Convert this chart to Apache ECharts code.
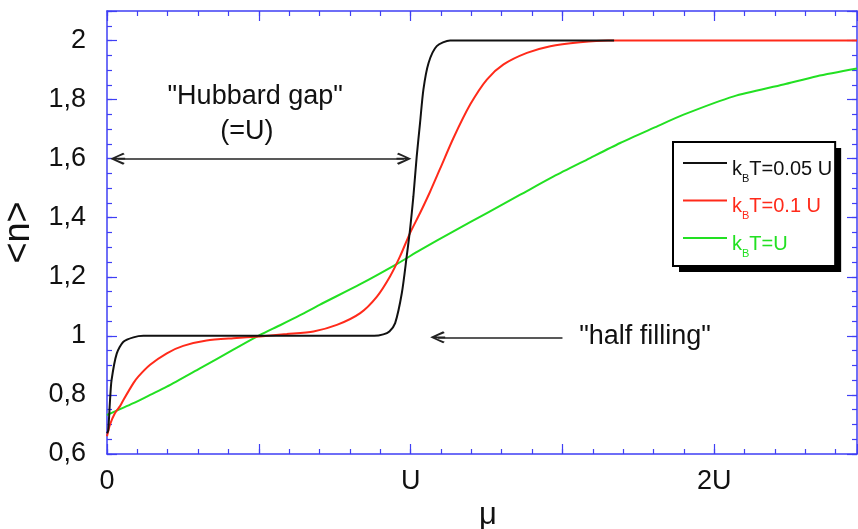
<!DOCTYPE html>
<html><head><meta charset="utf-8">
<script src="https://cdn.jsdelivr.net/npm/echarts@6/dist/echarts.min.js"></script>
<style>html,body{margin:0;padding:0;background:#fff}#c{width:858px;height:529px}</style>
</head><body><div id="c"></div>
<script>
// ---- data (mu in units of U, n = <n>) ----
const muBlack = [0, 0.004, 0.010, 0.015, 0.032, 0.054, 0.087, 0.12, 0.3, 0.5, 0.7, 0.88, 0.91, 0.93, 0.949, 0.971, 0.987, 0.998, 1.009, 1.020, 1.031, 1.042, 1.059, 1.086, 1.13, 1.4, 1.67];
const nBlack  = [0.67, 0.68, 0.783, 0.85, 0.94, 0.98, 0.995, 1.0, 1.0, 1.0, 1.0, 1.0, 1.005, 1.015, 1.043, 1.145, 1.269, 1.36, 1.472, 1.608, 1.721, 1.834, 1.924, 1.981, 2.0, 2.0, 2.0];

const muRed = [0, 0.01, 0.026, 0.043, 0.054, 0.087, 0.103, 0.142, 0.197, 0.251, 0.328, 0.416, 0.504, 0.592, 0.68, 0.757, 0.834, 0.889, 0.932, 0.965, 0.998, 1.031, 1.064, 1.097, 1.141, 1.196, 1.251, 1.306, 1.383, 1.46, 1.558, 1.65, 2.0, 2.47];
const nRed  = [0.66, 0.70, 0.738, 0.762, 0.783, 0.84, 0.862, 0.902, 0.941, 0.966, 0.984, 0.992, 0.998, 1.006, 1.015, 1.037, 1.077, 1.133, 1.201, 1.269, 1.348, 1.416, 1.488, 1.566, 1.67, 1.783, 1.868, 1.919, 1.958, 1.981, 1.994, 2.0, 2.0, 2.0];

const muGreen = [0, 0.087, 0.142, 0.197, 0.306, 0.416, 0.504, 0.57, 0.636, 0.7, 0.834, 0.954, 1.031, 1.141, 1.251, 1.361, 1.471, 1.581, 1.69, 1.8, 1.899, 2.064, 2.228, 2.338, 2.47];
const nGreen  = [0.732, 0.772, 0.80, 0.828, 0.89, 0.953, 1.003, 1.036, 1.07, 1.105, 1.175, 1.243, 1.29, 1.354, 1.416, 1.478, 1.54, 1.597, 1.653, 1.704, 1.749, 1.811, 1.851, 1.879, 1.905];

const seriesNames = ['kBT=0.05 U', 'kBT=0.1 U', 'kBT=U'];
const legendTexts = ['{t|k}{s|B}{t|T=0.05 U}', '{t|k}{s|B}{t|T=0.1 U}', '{t|k}{s|B}{t|T=U}'];

const xLabelValues = [0, 1, 2];
const xLabelTexts  = ['0', 'U', '2U'];
const yLabelValues = [0.6, 0.8, 1, 1.2, 1.4, 1.6, 1.8, 2];
const yLabelTexts  = ['0,6', '0,8', '1', '1,2', '1,4', '1,6', '1,8', '2'];

const annotationTexts = ['"Hubbard gap"', '(=U)', '"half filling"'];
const annotationCoords = [[0.488, 1.81], [0.461, 1.693], [1.772, 0.997]];
// ----------------------------------------------------------------

const zip = (a, b) => a.map((v, i) => [v, b[i]]);
const FONT = 'Liberation Sans, Arial, Helvetica, sans-serif';
const AXIS_BLUE = '#3f3ff5';
const colors = ['#111111', '#ff2a1a', '#22e022'];

const lookup = (vals, txts) => v => {
  for (let i = 0; i < vals.length; i++) if (Math.abs(v - vals[i]) < 1e-6) return txts[i];
  return '';
};

const XMIN = 0, XMAX = 2.47, YMIN = 0.6, YMAX = 2.1;
function xAx(pos, interval, len, line, labels) {
  return {
    type: 'value', position: pos, min: XMIN, max: XMAX, interval: interval,
    axisLine: { show: line, onZero: false, lineStyle: { color: AXIS_BLUE, width: 1.5 } },
    axisTick: { show: true, inside: true, length: len, lineStyle: { color: AXIS_BLUE, width: 1.2 } },
    axisLabel: labels ? { show: true, margin: 14, fontSize: 27, color: '#111', fontFamily: FONT,
      formatter: lookup(xLabelValues, xLabelTexts) } : { show: false },
    splitLine: { show: false }
  };
}
function yAx(pos, interval, len, line, labels) {
  return {
    type: 'value', position: pos, min: YMIN, max: YMAX, interval: interval,
    axisLine: { show: line, onZero: false, lineStyle: { color: AXIS_BLUE, width: 1.5 } },
    axisTick: { show: true, inside: true, length: len, lineStyle: { color: AXIS_BLUE, width: 1.2 } },
    axisLabel: labels ? { show: true, margin: 21, fontSize: 27, color: '#111', fontFamily: FONT,
      formatter: lookup(yLabelValues, yLabelTexts) } : { show: false },
    splitLine: { show: false }
  };
}

const xA = xAx('bottom', 0.1, 5, true, true);
xA.name = 'μ'; xA.nameLocation = 'middle'; xA.nameGap = 44;
xA.nameTextStyle = { fontSize: 31, color: '#111', fontFamily: FONT, padding: [0, 0, 0, 12] };
const yA = yAx('left', 0.2, 10, true, true);
yA.name = '<n>'; yA.nameLocation = 'middle'; yA.nameGap = 64;
yA.nameTextStyle = { fontSize: 36, color: '#111', fontFamily: FONT };

const chev = 'path://M6,0 L12,13 L10.3,14.6 L6.9,6 L6.9,15 L5.1,15 L5.1,6 L1.7,14.6 L0,13 Z';
const lineIcon = 'path://M0,0 L44,0 L44,2 L0,2 Z';

const richText = {
  t: { fontSize: 20, lineHeight: 22, padding: [7, 0, 0, 0], verticalAlign: 'top', fontFamily: FONT },
  s: { fontSize: 11, lineHeight: 11, padding: [21, 0, 0, 0], verticalAlign: 'top', fontFamily: FONT }
};
const legendBase = {
  orient: 'vertical', left: 673, top: 142,
  itemWidth: 44, itemHeight: 14, itemGap: 5.5,
  padding: [10, 3, 7, 10],
  icon: lineIcon, selectedMode: false,
  formatter: name => legendTexts[seriesNames.indexOf(name)]
};

const chart = echarts.init(document.getElementById('c'), null, { renderer: 'canvas' });
chart.setOption({
  animation: false,
  backgroundColor: '#fff',
  grid: { left: 107, right: 1, top: 11, bottom: 75, outerBoundsMode: 'none', containLabel: false },
  xAxis: [xA, xAx('bottom', 0.5, 10, false, false), xAx('top', 0.1, 5, true, false), xAx('top', 0.5, 10, false, false)],
  yAxis: [yA, yAx('left', 0.05, 5, false, false), yAx('right', 0.2, 10, true, false), yAx('right', 0.05, 5, false, false)],
  legend: [
    Object.assign({}, legendBase, {
      // shadowed white box, content invisible
      z: 4,
      backgroundColor: '#fff', borderWidth: 0,
      shadowColor: '#000', shadowBlur: 0, shadowOffsetX: 6, shadowOffsetY: 6,
      itemStyle: { opacity: 0 }, lineStyle: { opacity: 0 },
      data: seriesNames.slice(),
      textStyle: { fontSize: 20, fontFamily: FONT, color: 'rgba(0,0,0,0)', rich: richText }
    }),
    Object.assign({}, legendBase, {
      z: 5,
      backgroundColor: 'rgba(0,0,0,0)', borderColor: '#000', borderWidth: 2,
      data: seriesNames.map((n, i) => ({ name: n, textStyle: { color: colors[i] } })),
      textStyle: { fontSize: 20, fontFamily: FONT, rich: richText }
    })
  ],
  series: [
    {
      name: seriesNames[0], type: 'line', data: zip(muBlack, nBlack), symbol: 'none',
      smooth: 0.25, lineStyle: { color: colors[0], width: 2 }, itemStyle: { color: colors[0] }, z: 3,
      markLine: {
        silent: true, symbolSize: [12, 15], label: { show: false },
        lineStyle: { color: '#222', width: 1.6, type: 'solid' },
        data: [
          [{ coord: [0.035, 1.6], symbol: chev }, { coord: [0.978, 1.6], symbol: chev }],
          [{ coord: [1.5, 0.995], symbol: 'none' }, { coord: [1.089, 0.995], symbol: chev }]
        ]
      },
      markPoint: {
        silent: true, symbol: 'circle', symbolSize: 0,
        data: annotationTexts.map((t, i) => ({
          coord: annotationCoords[i], value: t,
          label: { show: true, position: 'inside', formatter: t, fontSize: 27, color: '#111', fontFamily: FONT }
        }))
      }
    },
    {
      name: seriesNames[1], type: 'line', data: zip(muRed, nRed), symbol: 'none',
      smooth: 0.25, lineStyle: { color: colors[1], width: 2 }, itemStyle: { color: colors[1] }, z: 2
    },
    {
      name: seriesNames[2], type: 'line', data: zip(muGreen, nGreen), symbol: 'none',
      smooth: 0.25, lineStyle: { color: colors[2], width: 2 }, itemStyle: { color: colors[2] }, z: 1
    }
  ]
});
</script></body></html>
